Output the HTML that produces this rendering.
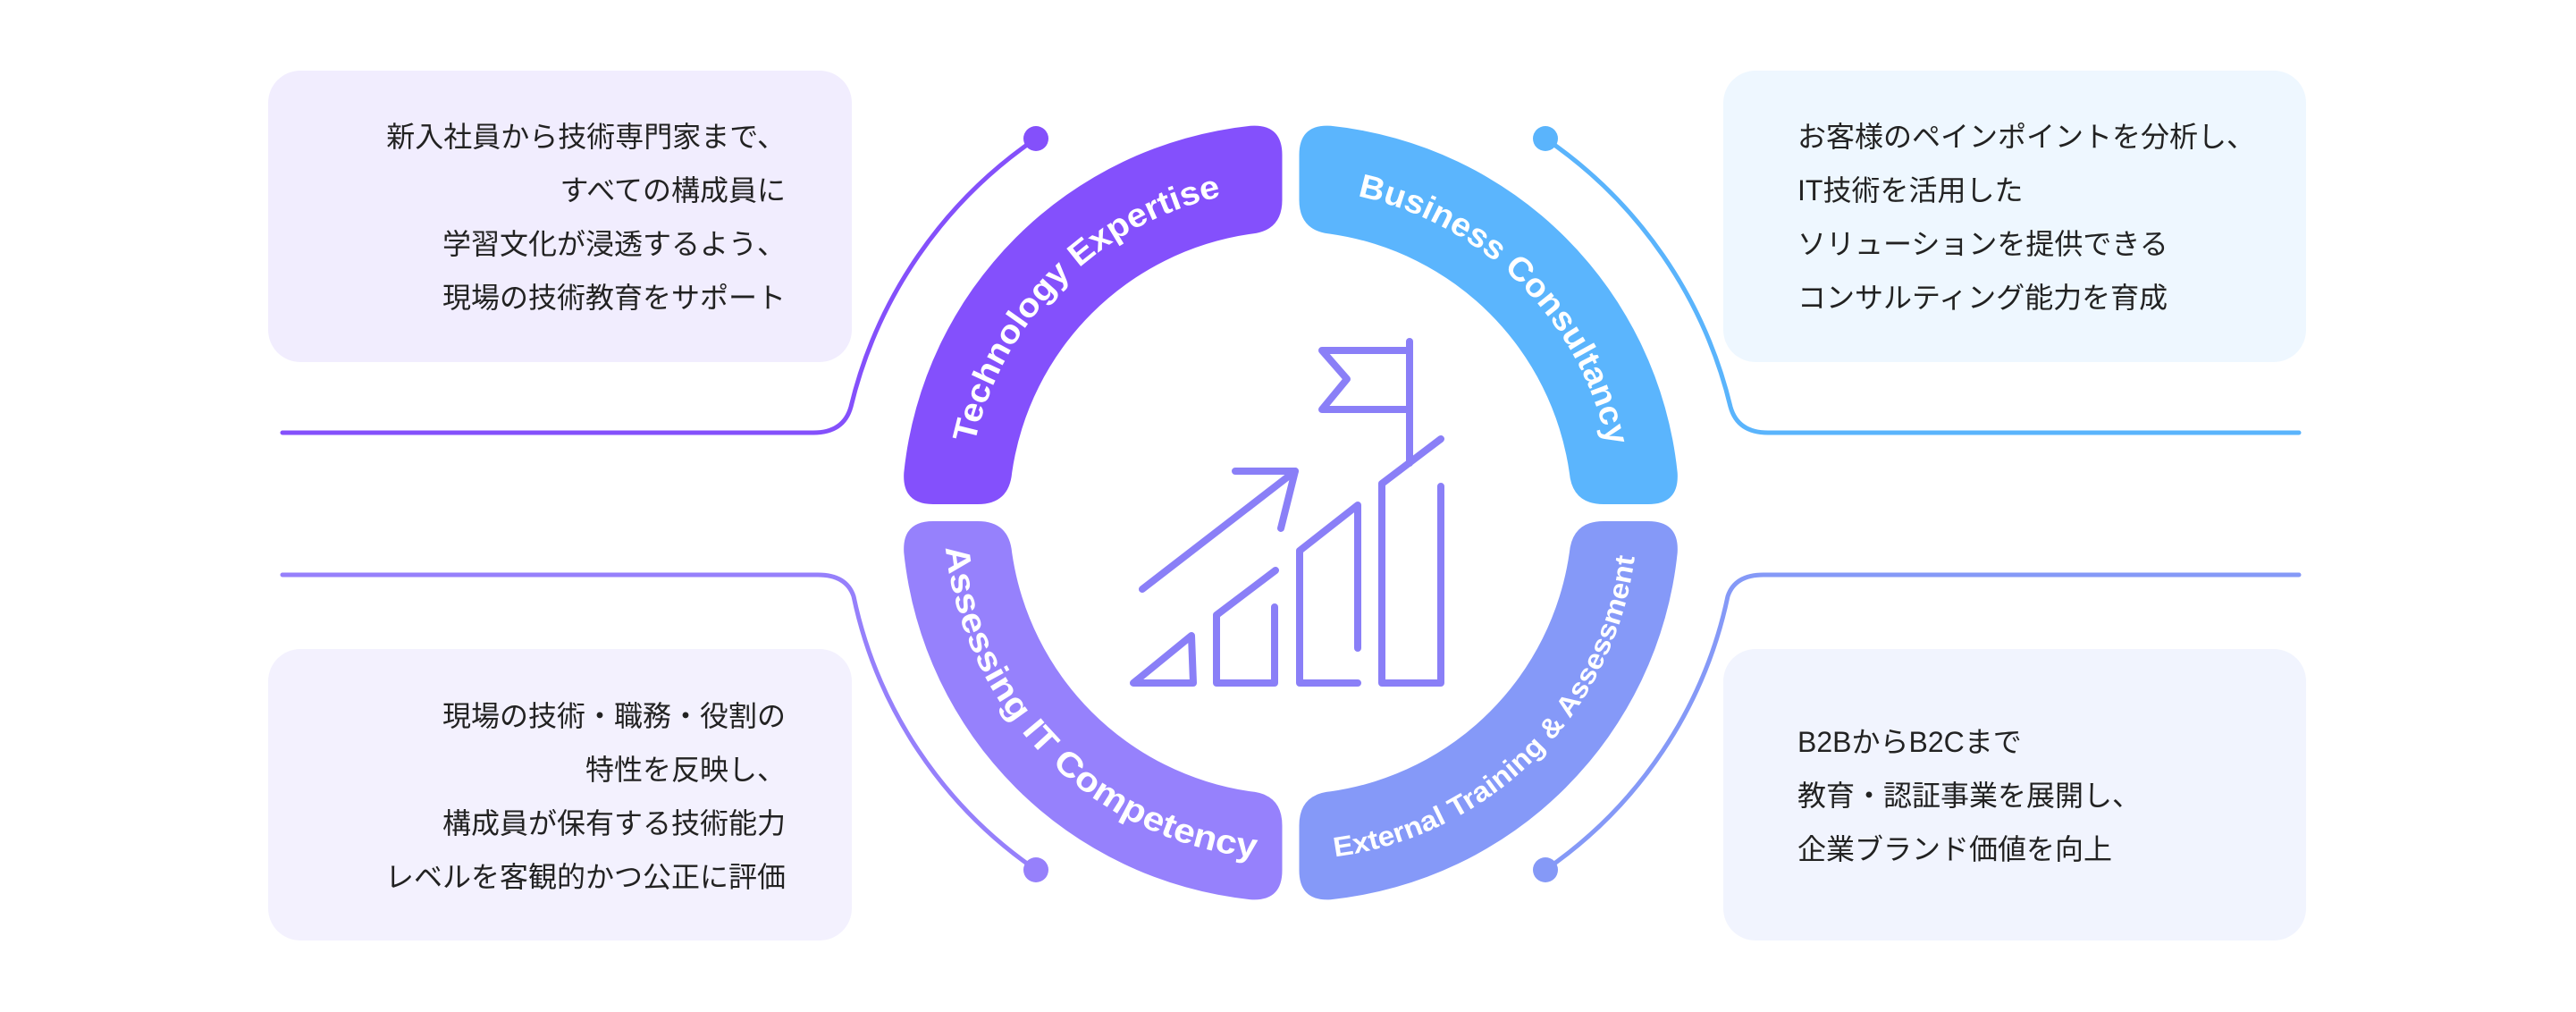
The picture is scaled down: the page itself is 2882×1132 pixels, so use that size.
<!DOCTYPE html>
<html><head><meta charset="utf-8"><style>
html,body{margin:0;padding:0;background:#fff;}
body{width:2882px;height:1132px;position:relative;overflow:hidden;font-family:"Liberation Sans","Noto Sans CJK JP",sans-serif;}
.box{position:absolute;border-radius:36px;}
.t{position:absolute;font-family:"Liberation Sans","Noto Sans CJK JP",sans-serif;font-size:32px;color:#222;line-height:60px;white-space:nowrap;}
</style></head><body>
<div class="box" style="left:300px;top:79px;width:653px;height:326px;background:#f1edfe"></div>
<div class="box" style="left:1928px;top:79px;width:652px;height:326px;background:#eef7ff"></div>
<div class="box" style="left:300px;top:726px;width:653px;height:326px;background:#f3f1fe"></div>
<div class="box" style="left:1928px;top:726px;width:652px;height:326px;background:#f1f4fe"></div>

<div class="t" style="right:2003px;top:123px;text-align:right">新入社員から技術専門家まで、<br>すべての構成員に<br>学習文化が浸透するよう、<br>現場の技術教育をサポート</div>
<div class="t" style="left:2011px;top:123px">お客様のペインポイントを分析し、<br>IT技術を活用した<br>ソリューションを提供できる<br>コンサルティング能力を育成</div>
<div class="t" style="right:2003px;top:771px;text-align:right">現場の技術・職務・役割の<br>特性を反映し、<br>構成員が保有する技術能力<br>レベルを客観的かつ公正に評価</div>
<div class="t" style="left:2011px;top:800px">B2BからB2Cまで<br>教育・認証事業を展開し、<br>企業ブランド価値を向上</div>

<svg width="2882" height="1132" style="position:absolute;left:0;top:0" xmlns="http://www.w3.org/2000/svg">
<defs>
<path id="q" d="M -400 -9.5 L -350 -9.5 Q -315 -9.5 -311.8 -44.9 A 315 315 0 0 1 -44.9 -311.8 Q -9.5 -315 -9.5 -350 L -9.5 -400 Q -9.5 -435 -44.9 -432.7 A 435 435 0 0 0 -432.7 -44.9 Q -435 -9.5 -400 -9.5 Z"/>
<path id="pTL" d="M 1082 573.5 A 362 362 0 0 1 1444 211.5"/>
<path id="pTR" d="M 1444 211.5 A 362 362 0 0 1 1806 573.5"/>
<path id="pBL" d="M 1056 573.5 A 388 388 0 0 0 1444 961.5"/>
<path id="pBR" d="M 1444 961.5 A 388 388 0 0 0 1832 573.5"/>
</defs>
<g fill="none" stroke-width="5" stroke-linecap="round">
<path d="M 1159 155 A 506 506 0 0 0 952 455 Q 944 484 910 484 L 316 484" stroke="#8450fb"/>
<path d="M 1729 155 A 506 506 0 0 1 1936 455 Q 1944 484 1978 484 L 2572 484" stroke="#5ab4fc"/>
<path d="M 1159 973 A 495 495 0 0 1 955 667 Q 947 643 915 643 L 316 643" stroke="#9680fb"/>
<path d="M 1729 973 A 495 495 0 0 0 1933 667 Q 1941 643 1973 643 L 2572 643" stroke="#8599f7"/>
</g>
<circle cx="1159" cy="155" r="14" fill="#8450fb"/>
<circle cx="1729" cy="155" r="14" fill="#5ab4fc"/>
<circle cx="1159" cy="973" r="14" fill="#9680fb"/>
<circle cx="1729" cy="973" r="14" fill="#8599f7"/>

<use href="#q" transform="translate(1444,573.5)" fill="#8450fc"/>
<use href="#q" transform="translate(1444,573.5) scale(-1,1)" fill="#5bb5fd"/>
<use href="#q" transform="translate(1444,573.5) scale(1,-1)" fill="#9681fc"/>
<use href="#q" transform="translate(1444,573.5) scale(-1,-1)" fill="#8599f8"/>

<g fill="#fff" font-family="Liberation Sans, sans-serif" font-weight="bold">
<text font-size="37"><textPath href="#pTL" startOffset="50%" text-anchor="middle" textLength="412" lengthAdjust="spacingAndGlyphs">Technology Expertise</textPath></text>
<text font-size="37"><textPath href="#pTR" startOffset="50%" text-anchor="middle" textLength="418" lengthAdjust="spacingAndGlyphs">Business Consultancy</textPath></text>
<text font-size="38"><textPath href="#pBL" startOffset="50%" text-anchor="middle" textLength="531" lengthAdjust="spacingAndGlyphs">Assessing IT Competency</textPath></text>
<text font-size="31"><textPath href="#pBR" startOffset="50%" text-anchor="middle" textLength="510" lengthAdjust="spacingAndGlyphs">External Training &amp; Assessment</textPath></text>
</g>

<g fill="none" stroke="#8a7ff7" stroke-width="8" stroke-linecap="round" stroke-linejoin="round">
<path d="M 1577 382 L 1577 518"/>
<path d="M 1577 392 L 1479 392 L 1507 424 L 1479 458 L 1577 458"/>
<path d="M 1612 491 L 1546 541 L 1546 764 L 1612 764 L 1612 544"/>
<path d="M 1519 725 L 1519 565 L 1454 616 L 1454 764 L 1519 764"/>
<path d="M 1427 638 L 1361 688 L 1361 764 L 1426 764 L 1426 679"/>
<path d="M 1333 711 L 1268 764 L 1335 764 L 1333 711"/>
<path d="M 1278 659 L 1449 527"/>
<path d="M 1382 527 L 1449 527 L 1433 591"/>
</g>
</svg>
</body></html>
